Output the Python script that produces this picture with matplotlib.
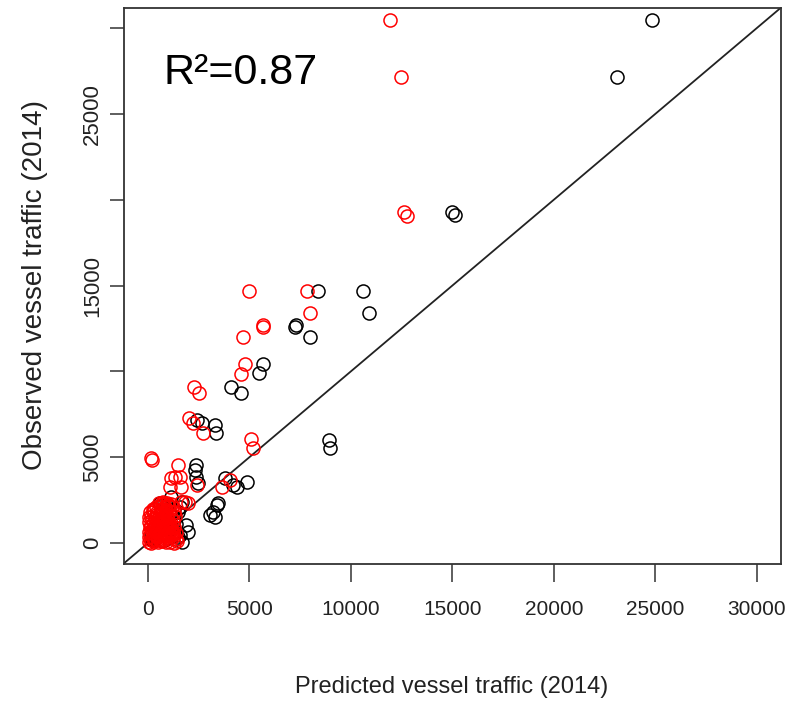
import numpy as np
import matplotlib
matplotlib.use('Agg')
import matplotlib.pyplot as plt


####
# Data
#===
# black = model predictions vs observed
black_pred = [24830, 23100, 14980, 15130, 10580, 8390, 10900, 7240, 7320, 7980,
              5650, 5490, 4090, 4580, 2400, 2640, 3300, 3350, 8930, 8970,
              2380, 2300, 2370, 2460, 3790, 4200, 4370, 4860, 3450, 3380,
              3190, 3050, 3300, 1600, 1660, 590, 1890, 1970, 1560, 1310,
              1490, 1660, 1130, 740,
              200, 400, 600, 800, 1000, 1200, 300, 500, 700, 900,
              1100, 1300, 150, 350, 250, 1400, 1200, 1000, 800, 1300,
              1500, 700, 900]
black_obs = [30480, 27160, 19290, 19110, 14700, 14690, 13390, 12610, 12710, 12020,
             10410, 9890, 9070, 8760, 7170, 6980, 6880, 6390, 6000, 5520,
             4545, 4250, 3860, 3480, 3770, 3380, 3280, 3570, 2330, 2210,
             1820, 1630, 1530, 2100, 2400, 2310, 1050, 660, 470, 560,
             370, 80, 2700, 2210,
             150, 300, 500, 600, 800, 900, 800, 1000, 1200, 1400,
             1700, 2000, 400, 600, 250, 1100, 500, 300, 200, 1500,
             1800, 2000, 2200]

# red = second model predictions vs observed
red_pred = [11920, 12460, 12610, 12760, 4990, 7820, 7980, 5650, 5690, 4700,
            4780, 4580, 2270, 2510, 2030, 2230, 2725, 5060, 5190,
            150, 180, 1480, 1310, 1140, 1560, 1070, 1640, 2430, 3630, 4040,
            740, 990, 1640, 1810, 1990, 670, 1250,
            40, 160, 310, 520, 690, 880, 1080, 1290, 1420,
            70, 240, 470, 640, 860, 1030, 1240, 1380,
            30, 210, 390, 610, 790, 1010, 1190, 1360,
            90, 280, 510, 720, 910, 1120, 1290,
            60, 260, 440, 660, 840, 1060, 1230,
            130, 340, 560, 760, 960, 1160, 1320,
            240, 460, 640, 870, 1040, 1280,
            410, 590, 820, 990, 1210,
            560, 760, 940, 1150,
            140, 350, 590, 770, 950, 1150, 330, 560, 1100, 160,
            700, 400, 900,
            120, 330, 570, 800, 1020, 1250, 200, 450, 680, 930,
            1140, 350, 600, 850, 1080, 480, 730, 980, 650, 880,
            60, 110, 250, 180, 300]
red_obs = [30480, 27160, 19290, 19060, 14690, 14690, 13390, 12710, 12610, 12020,
           10410, 9850, 9070, 8720, 7270, 6980, 6390, 6040, 5520,
           4970, 4840, 4545, 3860, 3770, 3860, 3280, 3280, 3380, 3280, 3670,
           2410, 2210, 2410, 2410, 2310, 2310, 660,
           60, 20, 90, 40, 110, 30, 70, 20, 90,
           330, 280, 350, 260, 320, 290, 360, 240,
           620, 580, 650, 560, 640, 600, 670, 560,
           920, 870, 950, 880, 930, 860, 940,
           1230, 1180, 1250, 1170, 1220, 1190, 1260,
           1520, 1480, 1540, 1470, 1530, 1490, 1600,
           1820, 1780, 1850, 1790, 1860, 1810,
           2080, 2140, 2070, 2130, 2090,
           2310, 2280, 2340, 2300,
           170, 190, 200, 420, 480, 450, 760, 770, 1000, 1000,
           1650, 1650, 1100,
           450, 470, 430, 480, 440, 500, 780, 740, 790, 750,
           760, 1050, 1060, 1070, 1040, 1370, 1360, 1340, 1970, 1950,
           1500, 1800, 2000, 1350, 1950]

r2_text = 'R\u00b2=0.87'
x_ticks = [0, 5000, 10000, 15000, 20000, 25000, 30000]
y_ticks = [0, 5000, 10000, 15000, 20000, 25000, 30000]
y_tick_labels = ['0', '5000', '', '15000', '', '25000', '']


####
# Plot
#===
fig = plt.figure(figsize=(7.9, 7.02), dpi=100)
ax = fig.add_axes([123.6/790, (702-563.6)/702, (781-123.6)/790, (563.6-7.6)/702])

lims = [-1200, 31200]
ax.plot(lims, lims, '-', color='#222222', lw=1.3, zorder=1)
ax.plot(black_pred, black_obs, 'o', ms=9.4, mfc='none', mec='black', mew=1.1, zorder=2)
ax.plot(red_pred, red_obs, 'o', ms=9.4, mfc='none', mec='red', mew=1.1, zorder=3)

ax.set_xlim(lims)
ax.set_ylim(lims)

ax.set_xticks(x_ticks)
ax.set_xticklabels([str(t) for t in x_ticks], family='Liberation Sans', fontsize=15,
                   color='#222222')
ax.set_yticks(y_ticks)
ax.set_yticklabels(y_tick_labels, family='Liberation Sans', fontsize=16, rotation=90,
                   va='center', color='#222222')
ax.tick_params(axis='x', direction='out', length=13, width=1.1, pad=13, color='#333333')
ax.tick_params(axis='y', direction='out', length=10, width=1.1, pad=5, color='#333333')
for s in ax.spines.values():
    s.set_color('#333333')
    s.set_linewidth(1.3)

ax.text(0.06, 0.862, r2_text, transform=ax.transAxes, family='Liberation Sans',
        fontsize=31, color='black', va='baseline', ha='left')

fig.text(452/790, (702-687)/702, 'Predicted vessel traffic (2014)', family='Liberation Sans',
         fontsize=17, ha='center', va='center', color='#222222')
fig.text(35/790, (702-285)/702, 'Observed vessel traffic (2014)', family='Liberation Sans',
         fontsize=20, rotation=90, ha='center', va='center', color='#222222')

fig.savefig('out.png', dpi=100)
